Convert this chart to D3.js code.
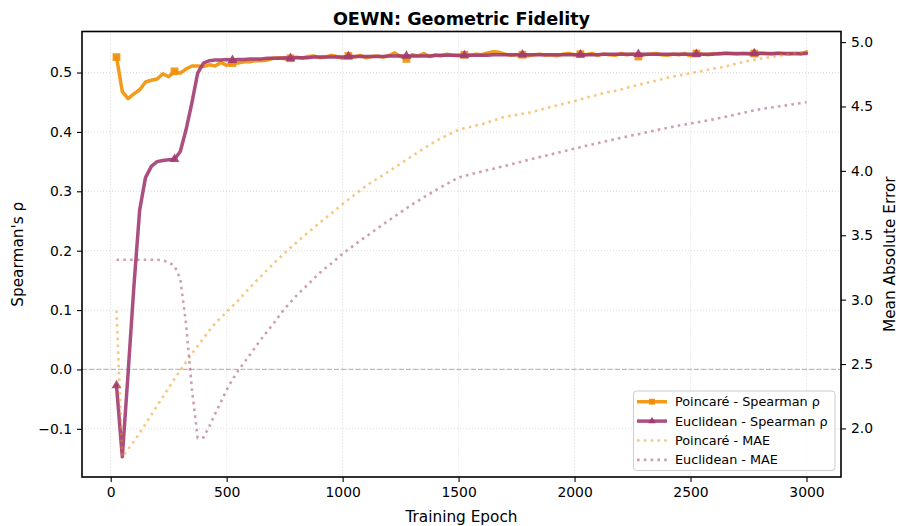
<!DOCTYPE html>
<html>
<head>
<meta charset="utf-8">
<script src="https://cdn.jsdelivr.net/npm/d3@7"></script>
<style>
  body { margin: 0; background: #fff; }
  svg { font-family: "DejaVu Sans", sans-serif; }
</style>
</head>
<body>
<svg id="chart" width="898" height="526"></svg>
<script>
// epochs sampled every 25 (x positions of every series)
const epochs = d3.range(25, 3001, 25);

// Spearman rho (left axis)
const poincareRho = [
  0.526, 0.468, 0.456, 0.464, 0.471, 0.484, 0.487, 0.489, 0.498, 0.493,
  0.502, 0.499, 0.506, 0.511, 0.511, 0.510, 0.513, 0.511, 0.517, 0.512,
  0.516, 0.516, 0.518, 0.518, 0.520, 0.520, 0.521, 0.524, 0.525, 0.523,
  0.524, 0.526, 0.524, 0.527, 0.528, 0.525, 0.526, 0.529, 0.527, 0.524,
  0.528, 0.526, 0.529, 0.525, 0.527, 0.528, 0.526, 0.529, 0.533, 0.527,
  0.523, 0.530, 0.528, 0.532, 0.527, 0.529, 0.528, 0.531, 0.529, 0.528,
  0.530, 0.529, 0.531, 0.530, 0.533, 0.535, 0.534, 0.531, 0.529, 0.530,
  0.530, 0.528, 0.530, 0.531, 0.529, 0.530, 0.528, 0.531, 0.532, 0.530,
  0.531, 0.530, 0.532, 0.529, 0.531, 0.530, 0.529, 0.532, 0.530, 0.531,
  0.527, 0.530, 0.531, 0.532, 0.530, 0.529, 0.531, 0.530, 0.532, 0.528,
  0.532, 0.531, 0.530, 0.532, 0.531, 0.533, 0.532, 0.531, 0.532, 0.531,
  0.532, 0.533, 0.532, 0.531, 0.533, 0.532, 0.531, 0.532, 0.531, 0.535
];
const euclidRho = [
  -0.027, -0.147, -0.006, 0.140, 0.269, 0.323, 0.342, 0.350, 0.352, 0.353,
  0.354, 0.367, 0.404, 0.449, 0.499, 0.516, 0.520, 0.521, 0.521, 0.522,
  0.521, 0.522, 0.522, 0.523, 0.523, 0.523, 0.524, 0.524, 0.524, 0.525,
  0.524, 0.525, 0.525, 0.525, 0.526, 0.526, 0.526, 0.526, 0.526, 0.526,
  0.527, 0.527, 0.527, 0.527, 0.527, 0.527, 0.527, 0.528, 0.528, 0.528,
  0.528, 0.528, 0.528, 0.528, 0.528, 0.529, 0.529, 0.529, 0.529, 0.529,
  0.529, 0.529, 0.529, 0.529, 0.529, 0.530, 0.530, 0.530, 0.530, 0.530,
  0.530, 0.530, 0.530, 0.530, 0.530, 0.530, 0.530, 0.530, 0.530, 0.530,
  0.530, 0.530, 0.530, 0.530, 0.531, 0.531, 0.531, 0.531, 0.531, 0.531,
  0.531, 0.531, 0.531, 0.531, 0.531, 0.531, 0.531, 0.531, 0.531, 0.531,
  0.531, 0.531, 0.531, 0.531, 0.532, 0.532, 0.532, 0.532, 0.532, 0.532,
  0.532, 0.532, 0.532, 0.532, 0.532, 0.532, 0.532, 0.532, 0.532, 0.532
];

// mean absolute error (right axis)
const poincareMae = [
  2.916, 1.78, 1.84, 1.90, 1.965, 2.035, 2.105, 2.175, 2.245, 2.315,
  2.385, 2.45, 2.515, 2.58, 2.64, 2.70, 2.76, 2.815, 2.86, 2.905,
  2.95, 2.994, 3.045, 3.093, 3.14, 3.186, 3.232, 3.276, 3.32, 3.362,
  3.403, 3.442, 3.482, 3.52, 3.558, 3.595, 3.632, 3.668, 3.705, 3.742,
  3.777, 3.813, 3.848, 3.883, 3.912, 3.94, 3.968, 3.997, 4.027, 4.057,
  4.086, 4.116, 4.145, 4.174, 4.202, 4.23, 4.253, 4.276, 4.298, 4.32,
  4.331, 4.341, 4.352, 4.362, 4.377, 4.391, 4.406, 4.42, 4.428, 4.435,
  4.443, 4.45, 4.462, 4.474, 4.485, 4.497, 4.508, 4.52, 4.531, 4.542,
  4.555, 4.568, 4.58, 4.592, 4.603, 4.614, 4.622, 4.632, 4.645, 4.656,
  4.668, 4.678, 4.69, 4.70, 4.712, 4.724, 4.733, 4.742, 4.75, 4.758,
  4.768, 4.776, 4.785, 4.794, 4.802, 4.81, 4.822, 4.834, 4.845, 4.855,
  4.862, 4.87, 4.877, 4.885, 4.892, 4.90, 4.907, 4.913, 4.919, 4.925
];
const euclidMae = [
  3.31, 3.31, 3.31, 3.31, 3.31, 3.31, 3.31, 3.31, 3.305, 3.29,
  3.262, 3.163, 2.81, 2.307, 1.926, 1.93, 2.014, 2.113, 2.205, 2.30,
  2.38, 2.45, 2.51, 2.571, 2.635, 2.696, 2.754, 2.81, 2.87, 2.929,
  2.98, 3.03, 3.074, 3.116, 3.162, 3.206, 3.243, 3.279, 3.318, 3.357,
  3.39, 3.424, 3.457, 3.489, 3.521, 3.553, 3.585, 3.616, 3.647, 3.678,
  3.709, 3.74, 3.767, 3.795, 3.822, 3.849, 3.874, 3.899, 3.924, 3.948,
  3.96, 3.972, 3.984, 3.995, 4.006, 4.017, 4.028, 4.038, 4.05, 4.062,
  4.074, 4.085, 4.096, 4.107, 4.118, 4.129, 4.14, 4.151, 4.162, 4.173,
  4.184, 4.195, 4.205, 4.215, 4.226, 4.236, 4.246, 4.256, 4.266, 4.276,
  4.285, 4.295, 4.305, 4.315, 4.325, 4.334, 4.343, 4.352, 4.36, 4.368,
  4.376, 4.384, 4.392, 4.40, 4.41, 4.42, 4.43, 4.44, 4.45, 4.46,
  4.47, 4.479, 4.486, 4.492, 4.499, 4.505, 4.512, 4.519, 4.526, 4.533
];

const xTicks = [0, 500, 1000, 1500, 2000, 2500, 3000];
const rhoTicks = [-0.1, 0.0, 0.1, 0.2, 0.3, 0.4, 0.5];
const maeTicks = [2.0, 2.5, 3.0, 3.5, 4.0, 4.5, 5.0];
const legendLabels = ["Poincaré - Spearman ρ", "Euclidean - Spearman ρ", "Poincaré - MAE", "Euclidean - MAE"];

const ORANGE = "#F18F01", PURPLE = "#A23B72";

const svg = d3.select("#chart");
const plotL = 82, plotR = 841, plotT = 31.5, plotB = 477;

// matplotlib-like 5% padding around data
function padded(arr) {
  const [lo, hi] = d3.extent(arr);
  const m = (hi - lo) * 0.05;
  return [lo - m, hi + m];
}

const x = d3.scaleLinear().domain(padded(epochs)).range([plotL, plotR]);
const yL = d3.scaleLinear().domain(padded(poincareRho.concat(euclidRho))).range([plotB, plotT]);
const yR = d3.scaleLinear().domain(padded(poincareMae.concat(euclidMae))).range([plotB, plotT]);

svg.append("rect").attr("width", 898).attr("height", 526).attr("fill", "#fff");

// grid
const grid = svg.append("g");
grid.selectAll(".gx").data(xTicks).enter().append("line")
  .attr("x1", d => x(d)).attr("x2", d => x(d)).attr("y1", plotT).attr("y2", plotB)
  .attr("stroke", "#d6d6d6").attr("stroke-width", 0.9).attr("stroke-dasharray", "1,2");
grid.selectAll(".gy").data(rhoTicks).enter().append("line")
  .attr("x1", plotL).attr("x2", plotR).attr("y1", d => yL(d)).attr("y2", d => yL(d))
  .attr("stroke", "#d6d6d6").attr("stroke-width", 0.9).attr("stroke-dasharray", "1,2");

// zero reference line
svg.append("line")
  .attr("x1", plotL).attr("x2", plotR).attr("y1", yL(0)).attr("y2", yL(0))
  .attr("stroke", "#808080").attr("stroke-opacity", 0.5).attr("stroke-width", 1.3)
  .attr("stroke-dasharray", "5,2.2");

const rhoSeries = [
  { vals: poincareRho, color: ORANGE, marker: d3.symbolSquare, msize: 60 },
  { vals: euclidRho, color: PURPLE, marker: d3.symbolTriangle, msize: 42 }
];

rhoSeries.forEach(s => {
  const line = d3.line().x((d, i) => x(epochs[i])).y(d => yL(d));
  svg.append("path").datum(s.vals)
    .attr("d", line).attr("fill", "none")
    .attr("stroke", s.color).attr("stroke-opacity", 0.9)
    .attr("stroke-width", 3.5).attr("stroke-linejoin", "round").attr("stroke-linecap", "round");
  // marker every 10th point
  svg.append("g").selectAll("path")
    .data(s.vals.map((v, i) => ({ ep: epochs[i], v })).filter((d, i) => i % 10 === 0))
    .enter().append("path")
    .attr("d", d3.symbol(s.marker, s.msize))
    .attr("transform", d => `translate(${x(d.ep)},${yL(d.v)})`)
    .attr("fill", s.color).attr("fill-opacity", 0.9);
});

const maeSeries = [
  { vals: poincareMae, color: ORANGE },
  { vals: euclidMae, color: PURPLE }
];
maeSeries.forEach(s => {
  const line = d3.line().x((d, i) => x(epochs[i])).y(d => yR(d));
  svg.append("path").datum(s.vals)
    .attr("d", line).attr("fill", "none")
    .attr("stroke", s.color).attr("stroke-opacity", 0.5)
    .attr("stroke-width", 2.6).attr("stroke-dasharray", "2.6,4.2");
});

// axes
const fmt = d3.format(".1f");
const axB = svg.append("g").attr("transform", `translate(0,${plotB})`)
  .call(d3.axisBottom(x).tickValues(xTicks).tickSize(5).tickPadding(5).tickFormat(d3.format("d")));
const axL = svg.append("g").attr("transform", `translate(${plotL},0)`)
  .call(d3.axisLeft(yL).tickValues(rhoTicks).tickSize(5).tickPadding(5).tickFormat(fmt));
const axR = svg.append("g").attr("transform", `translate(${plotR},0)`)
  .call(d3.axisRight(yR).tickValues(maeTicks).tickSize(5).tickPadding(5).tickFormat(fmt));
[axB, axL, axR].forEach(a => {
  a.select(".domain").remove();
  a.selectAll(".tick line").attr("stroke", "#000").attr("stroke-width", 1.1);
  a.selectAll(".tick text").attr("font-size", 13.9).attr("fill", "#000")
    .attr("font-family", "DejaVu Sans");
});

// spines
svg.append("rect")
  .attr("x", plotL).attr("y", plotT).attr("width", plotR - plotL).attr("height", plotB - plotT)
  .attr("fill", "none").attr("stroke", "#000").attr("stroke-width", 1.6);

// titles and labels
svg.append("text").attr("x", (plotL + plotR) / 2).attr("y", 25)
  .attr("text-anchor", "middle").attr("font-size", 17.6).attr("font-weight", "bold")
  .text("OEWN: Geometric Fidelity");
svg.append("text").attr("x", (plotL + plotR) / 2).attr("y", 522)
  .attr("text-anchor", "middle").attr("font-size", 15.3).text("Training Epoch");
svg.append("text")
  .attr("transform", `translate(23,${(plotT + plotB) / 2}) rotate(-90)`)
  .attr("text-anchor", "middle").attr("font-size", 15.3).text("Spearman's ρ");
svg.append("text")
  .attr("transform", `translate(895,${(plotT + plotB) / 2}) rotate(-90)`)
  .attr("text-anchor", "middle").attr("font-size", 15.3).text("Mean Absolute Error");

// legend
const lg = svg.append("g").attr("transform", "translate(633.5,391)");
lg.append("rect").attr("width", 201.5).attr("height", 79.5).attr("rx", 3)
  .attr("fill", "#fff").attr("fill-opacity", 0.8)
  .attr("stroke", "#cccccc").attr("stroke-width", 1);
const legendItems = [
  { label: legendLabels[0], color: ORANGE, dotted: false, marker: d3.symbolSquare, msize: 34 },
  { label: legendLabels[1], color: PURPLE, dotted: false, marker: d3.symbolTriangle, msize: 24 },
  { label: legendLabels[2], color: ORANGE, dotted: true },
  { label: legendLabels[3], color: PURPLE, dotted: true }
];
legendItems.forEach((it, i) => {
  const cy = 10.7 + i * 19.4;
  const row = lg.append("g").attr("transform", `translate(0,${cy})`);
  row.append("line").attr("x1", 3.5).attr("x2", 33.5).attr("y1", 0).attr("y2", 0)
    .attr("stroke", it.color)
    .attr("stroke-opacity", it.dotted ? 0.5 : 0.9)
    .attr("stroke-width", it.dotted ? 2.6 : 3.5)
    .attr("stroke-dasharray", it.dotted ? "2.6,4.2" : null);
  if (it.marker) {
    row.append("path").attr("d", d3.symbol(it.marker, it.msize))
      .attr("transform", "translate(18.5,0)").attr("fill", it.color);
  }
  row.append("text").attr("x", 41.5).attr("y", 0).attr("dy", "0.35em")
    .attr("font-size", 12.8).text(it.label);
});
</script>
</body>
</html>
